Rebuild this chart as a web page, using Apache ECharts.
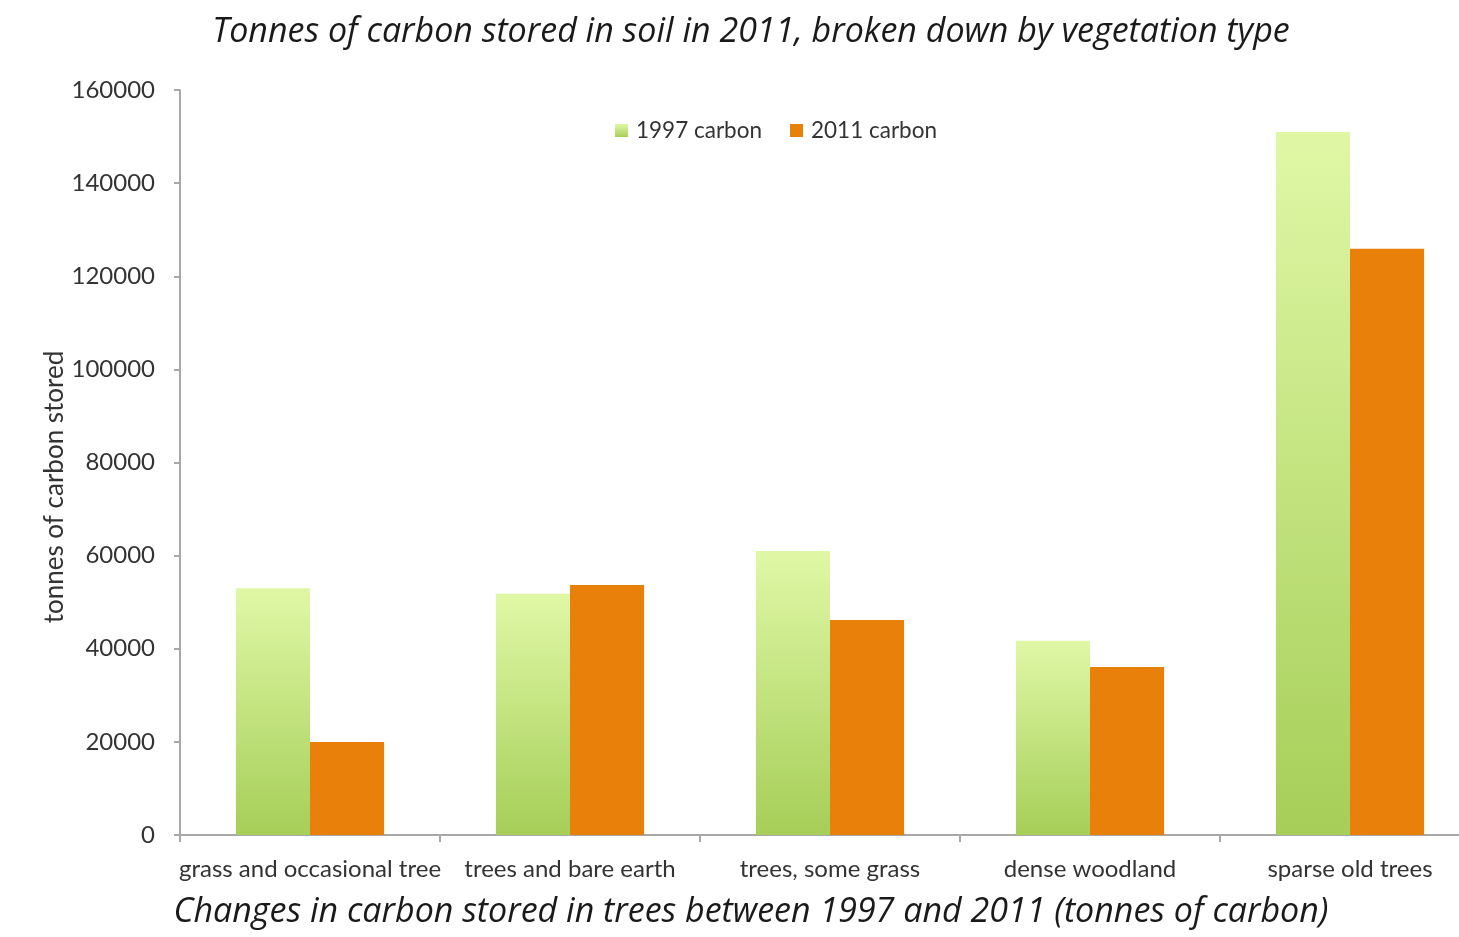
<!DOCTYPE html>
<html>
<head>
<meta charset="utf-8">
<script src="https://cdn.jsdelivr.net/npm/echarts@6/dist/echarts.min.js"></script>
<style>
  html, body { margin: 0; padding: 0; background: #ffffff; overflow: hidden; }
  /* the x axis runs a little past the right edge of the window */
  #chart { width: 1480px; height: 937px; }
</style>
</head>
<body>
<div id="chart"></div>
<script>
// Vegetation types along the x axis
const categories = [
  'grass and occasional tree',
  'trees and bare earth',
  'trees, some grass',
  'dense woodland',
  'sparse old trees'
];
// Tonnes of carbon stored per vegetation type
const carbon1997 = [53000, 51800, 61000, 41700, 151000];
const carbon2011 = [20000, 53700, 46200, 36100, 125900];
const seriesNames = ['1997 carbon', '2011 carbon'];
const titleText = 'Tonnes of carbon stored in soil in 2011, broken down by vegetation type';
const captionText = 'Changes in carbon stored in trees between 1997 and 2011 (tonnes of carbon)';
const yAxisName = 'tonnes of carbon stored';

const chart = echarts.init(document.getElementById('chart'));

const labelFont = 'Lato, "Open Sans", sans-serif';
const titleFont = '"Open Sans", "Noto Sans", sans-serif';

function headline(text, y) {
  return {
    type: 'text',
    x: 751,
    y: y,
    style: {
      text: text,
      fontFamily: titleFont,
      fontStyle: 'italic',
      fontSize: 34,
      fill: '#1a1a1a',
      textAlign: 'center',
      textVerticalAlign: 'middle'
    }
  };
}

chart.setOption({
  backgroundColor: '#ffffff',
  animation: false,
  graphic: [
    headline(titleText, 32),
    headline(captionText, 912),
    {
      type: 'text',
      x: 55,
      y: 487,
      rotation: Math.PI / 2,
      style: {
        text: yAxisName,
        fontFamily: labelFont,
        fontSize: 26,
        fill: '#333333',
        textAlign: 'center',
        textVerticalAlign: 'middle'
      }
    }
  ],
  legend: {
    data: seriesNames,
    top: 114,
    left: 610,
    itemWidth: 13,
    itemHeight: 13,
    itemGap: 28,
    icon: 'rect',
    textStyle: { fontFamily: labelFont, fontSize: 22.5, color: '#333333', padding: [0, 0, 0, 3] }
  },
  grid: { left: 180, top: 90, right: 0, height: 745, containLabel: false },
  xAxis: {
    type: 'category',
    data: categories,
    axisLine: { lineStyle: { color: '#a8a8a8', width: 2 } },
    axisTick: { show: true, length: 7, lineStyle: { color: '#a8a8a8', width: 2 } },
    axisLabel: { fontFamily: labelFont, fontSize: 24, color: '#333333', margin: 22, interval: 0 }
  },
  yAxis: {
    type: 'value',
    min: 0,
    max: 160000,
    interval: 20000,
    axisLine: { show: true, lineStyle: { color: '#a8a8a8', width: 2 } },
    axisTick: { show: true, length: 6, lineStyle: { color: '#a8a8a8', width: 2 } },
    splitLine: { show: false },
    axisLabel: {
      fontFamily: labelFont, fontSize: 24, color: '#333333', margin: 25,
      formatter: function (v) { return String(v); }
    }
  },
  series: [
    {
      name: seriesNames[0],
      type: 'bar',
      data: carbon1997,
      barGap: '0%',
      barCategoryGap: '43%',
      itemStyle: {
        color: new echarts.graphic.LinearGradient(0, 0, 0, 1, [
          { offset: 0, color: '#e0f8a6' },
          { offset: 1, color: '#a6ce58' }
        ])
      }
    },
    {
      name: seriesNames[1],
      type: 'bar',
      data: carbon2011,
      itemStyle: { color: '#e8800a' }
    }
  ]
});
</script>
</body>
</html>
